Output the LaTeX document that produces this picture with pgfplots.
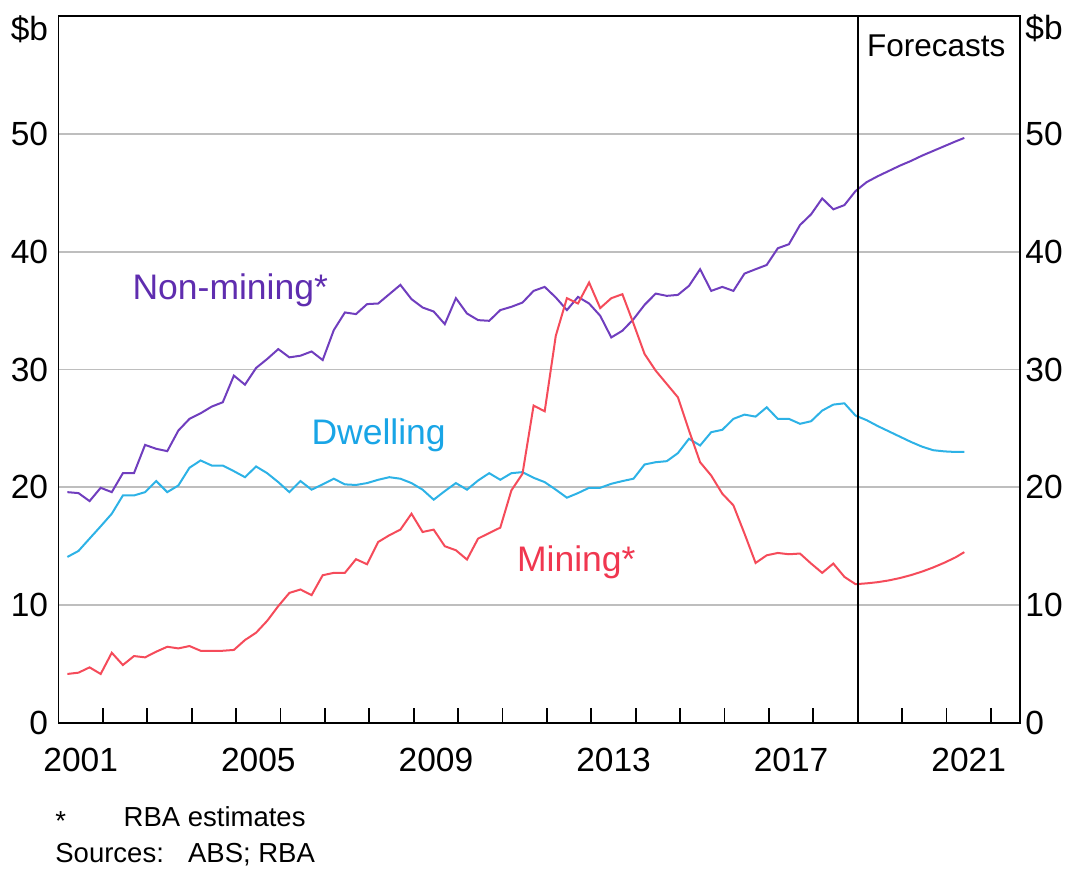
\documentclass[border=0pt]{standalone}
\usepackage{pgfplots}
\pgfplotsset{compat=1.18}
\usepackage{pgfplotstable}
\usepackage{fontspec}
\setmainfont{Liberation Sans}

\definecolor{nmline}{RGB}{112,62,190}
\definecolor{nmtext}{RGB}{95,45,175}
\definecolor{dwline}{RGB}{45,178,230}
\definecolor{dwtext}{RGB}{25,165,230}
\definecolor{miline}{RGB}{245,75,90}
\definecolor{mitext}{RGB}{240,55,80}
\definecolor{gridgray}{RGB}{190,190,190}

\pgfplotstableread{
x nm dw mi
2001.20 19.59 14.09 4.16
2001.45 19.51 14.60 4.27
2001.70 18.83 15.65 4.72
2001.95 19.96 16.69 4.16
2002.20 19.59 17.76 5.96
2002.45 21.20 19.31 4.92
2002.70 21.20 19.31 5.68
2002.95 23.60 19.59 5.57
2003.20 23.27 20.53 6.05
2003.45 23.07 19.59 6.47
2003.70 24.82 20.16 6.33
2003.95 25.81 21.66 6.53
2004.20 26.28 22.28 6.13
2004.45 26.85 21.85 6.13
2004.70 27.22 21.85 6.13
2004.95 29.48 21.37 6.20
2005.20 28.71 20.86 7.04
2005.45 30.13 21.77 7.66
2005.70 30.89 21.20 8.67
2005.95 31.73 20.44 9.92
2006.20 31.03 19.59 11.04
2006.45 31.17 20.53 11.33
2006.70 31.53 19.80 10.85
2006.95 30.80 20.25 12.54
2007.20 33.34 20.73 12.74
2007.45 34.84 20.25 12.74
2007.70 34.70 20.20 13.90
2007.95 35.55 20.36 13.47
2008.20 35.60 20.64 15.36
2008.45 36.39 20.86 15.93
2008.70 37.18 20.73 16.41
2008.95 35.97 20.36 17.76
2009.20 35.26 19.80 16.21
2009.45 34.92 18.95 16.41
2009.70 33.85 19.68 15.00
2009.95 36.05 20.36 14.66
2010.20 34.75 19.80 13.87
2010.45 34.19 20.58 15.65
2010.70 34.13 21.20 16.12
2010.95 35.04 20.64 16.58
2011.20 35.32 21.20 19.74
2011.45 35.68 21.29 21.15
2011.70 36.67 20.81 26.94
2011.95 37.01 20.44 26.45
2012.20 36.11 19.80 32.86
2012.45 35.04 19.12 36.05
2012.70 36.16 19.51 35.60
2012.95 35.60 19.96 37.38
2013.20 34.56 19.96 35.21
2013.45 32.72 20.30 36.05
2013.70 33.29 20.53 36.39
2013.95 34.27 20.73 33.90
2014.20 35.49 21.94 31.31
2014.45 36.44 22.13 29.90
2014.70 36.25 22.22 28.77
2014.95 36.33 22.90 27.64
2015.20 37.10 24.12 24.82
2015.45 38.51 23.55 22.13
2015.70 36.67 24.68 21.00
2015.95 37.01 24.88 19.46
2016.20 36.67 25.81 18.47
2016.45 38.14 26.17 16.07
2016.70 38.51 26.00 13.58
2016.95 38.87 26.79 14.23
2017.20 40.29 25.81 14.43
2017.45 40.63 25.81 14.32
2017.70 42.26 25.39 14.38
2017.95 43.17 25.61 13.53
2018.20 44.52 26.51 12.74
2018.45 43.59 27.02 13.53
2018.70 43.95 27.13 12.40
2018.95 45.14 26.09 11.78
2019.20 45.90 25.70 11.85
2019.45 46.40 25.20 11.95
2019.70 46.85 24.75 12.10
2019.95 47.30 24.30 12.30
2020.20 47.70 23.85 12.55
2020.45 48.15 23.45 12.85
2020.70 48.55 23.15 13.20
2020.95 48.95 23.05 13.60
2021.20 49.35 23.00 14.05
2021.40 49.65 23.00 14.50
}\datatable

\begin{document}
\begin{tikzpicture}
\path[use as bounding box] (0,0) rectangle (532.5pt,435pt);
\begin{axis}[
  at={(29.25pt,73.5pt)}, anchor=south west,
  scale only axis, width=480.75pt, height=353.5pt,
  xmin=2001, xmax=2022.655, ymin=0, ymax=60,
  axis line style={line width=0.9pt, black},
  ytick={0,10,20,30,40,50},
  ytick pos=left, yticklabel pos=left,
  ymajorgrids, grid style={line width=0.9pt, gridgray},
  ytick style={draw=none},
  yticklabel style={font=\fontsize{16.75}{18}\selectfont, inner sep=0pt, anchor=east, xshift=-5pt},
  /pgf/number format/assume math mode=true,
  xtick={2002,2003,...,2022},
  xticklabels={},
  xtick pos=left,
  xtick align=inside,
  xtick style={line width=0.9pt, black},
  major tick length=7.5pt,
  extra x ticks={2001.5,2005.5,2009.5,2013.5,2017.5,2021.5},
  extra x tick labels={2001,2005,2009,2013,2017,2021},
  extra x tick style={major tick length=0pt, xmajorgrids=false,
    xticklabel style={font=\fontsize{16.75}{18}\selectfont, inner sep=0pt, anchor=north, yshift=-12.5pt}},
  clip=false,
]
\addplot[nmline, line width=1pt] table[x=x, y=nm] {\datatable};
\addplot[dwline, line width=1pt] table[x=x, y=dw] {\datatable};
\addplot[miline, line width=1pt] table[x=x, y=mi] {\datatable};
\draw[black, line width=0.9pt] (axis cs:2019,0) -- (axis cs:2019,60);
\node[anchor=base west, inner sep=0pt, font=\fontsize{15.75}{17}\selectfont] at (axis cs:2019.2,56.6) {Forecasts};
\node[anchor=base west, inner sep=0pt, text=nmtext, font=\fontsize{17.75}{19}\selectfont] at (axis cs:2002.66,35.96) {Non-mining*};
\node[anchor=base west, inner sep=0pt, text=dwtext, font=\fontsize{17.75}{19}\selectfont] at (axis cs:2006.69,23.6) {Dwelling};
\node[anchor=base west, inner sep=0pt, text=mitext, font=\fontsize{17.75}{19}\selectfont] at (axis cs:2011.32,12.83) {Mining*};
\node[anchor=base east, inner sep=0pt, xshift=-5pt, font=\fontsize{16.75}{18}\selectfont] at (axis cs:2001,57.9) {\$b};
\node[anchor=base west, inner sep=0pt, xshift=2.5pt, font=\fontsize{16.75}{18}\selectfont] at (axis cs:2022.655,58.0) {\$b};
\end{axis}
\begin{axis}[
  at={(29.25pt,73.5pt)}, anchor=south west,
  scale only axis, width=480.75pt, height=353.5pt,
  xmin=2001, xmax=2022.655, ymin=0, ymax=60,
  hide x axis,
  axis y line*=right,
  y axis line style={draw=none},
  ytick={0,10,20,30,40,50},
  ytick style={draw=none},
  yticklabel style={font=\fontsize{16.75}{18}\selectfont, inner sep=0pt, anchor=west, xshift=2.5pt},
  /pgf/number format/assume math mode=true,
]
\end{axis}
\node[anchor=base west, inner sep=0pt, font=\fontsize{13.75}{15}\selectfont] at (27.5pt,19.5pt) {*};
\node[anchor=base west, inner sep=0pt, font=\fontsize{13.75}{15}\selectfont] at (61.65pt,21.5pt) {RBA estimates};
\node[anchor=base west, inner sep=0pt, font=\fontsize{13.75}{15}\selectfont] at (27.5pt,3.5pt) {Sources:};
\node[anchor=base west, inner sep=0pt, font=\fontsize{13.75}{15}\selectfont] at (93.85pt,3.5pt) {ABS; RBA};
\end{tikzpicture}
\end{document}
